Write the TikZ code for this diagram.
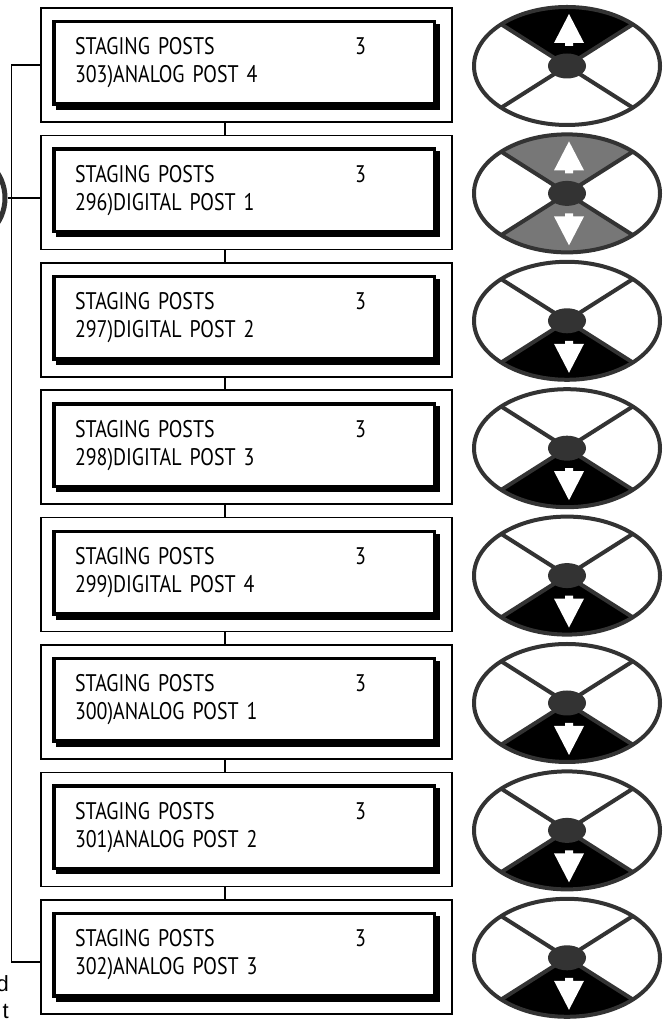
\documentclass[tikz,border=0pt]{standalone}
\usepackage{fontspec}
\setmainfont{PT Sans}[FakeStretch=0.83]
\newfontfamily\notefont{Liberation Sans}
\usetikzlibrary{calc, positioning}
\definecolor{keyrim}{HTML}{333333}
\definecolor{keyhalf}{HTML}{777777}

\begin{document}
\begin{tikzpicture}[x=1pt, y=1pt,
  frame/.style={rectangle, draw, line width=1.5pt, minimum width=411pt,
    minimum height=114pt, inner sep=0pt},
  lcd/.style={rectangle, draw, line width=3.5pt, fill=white, minimum width=380.5pt,
    minimum height=82.5pt, inner xsep=21.25pt, inner ysep=0pt, text width=338pt,
    align=left, font=\fontsize{24}{28}\selectfont},
  shade/.style={fill=black},
  rim/.style={draw=keyrim, line width=4pt},
  link/.style={draw, line width=1.5pt},
  note/.style={font=\notefont\fontsize{22}{27}\selectfont, align=right, inner sep=0pt}
]
\useasboundingbox (0,0) rectangle (662,1022);

\foreach \i/\post/\up/\dn in {1/303)ANALOG POST 4/black/white,
    2/296)DIGITAL POST 1/keyhalf/keyhalf, 3/297)DIGITAL POST 2/white/black,
    4/298)DIGITAL POST 3/white/black, 5/299)DIGITAL POST 4/white/black,
    6/300)ANALOG POST 1/white/black, 7/301)ANALOG POST 2/white/black,
    8/302)ANALOG POST 3/white/black}{
  \pgfmathsetmacro\yc{957-127.4*(\i-1)}
  % screen
  \node[frame] (frame\i) at (246.5,\yc) {};
  \fill[shade] (56,\yc+41) rectangle (440,\yc-45);
  \node[lcd] (lcd\i) at (244,\yc+2) {\makebox[280pt][l]{STAGING POSTS}3\\\post};
  % keypad
  \coordinate (key\i) at (567,\yc-1);
  \fill[\up] (key\i) -- ++(65.8,41.7)
    arc[start angle=45, end angle=135, x radius=93, y radius=59] -- cycle;
  \fill[\dn] (key\i) -- ++(-65.8,-41.7)
    arc[start angle=225, end angle=315, x radius=93, y radius=59] -- cycle;
  \fill[white] ($(key\i)+(2,52)$) -- ++(-15,-29) -- ++(11,0) -- ++(0,-3)
    -- ++(8,0) -- ++(0,3) -- ++(11,0) -- cycle;
  \fill[white] ($(key\i)+(2,-52)$) -- ++(-15,29) -- ++(11,0) -- ++(0,3)
    -- ++(8,0) -- ++(0,-3) -- ++(11,0) -- cycle;
  \draw[rim] ($(key\i)+(-65.8,41.7)$) -- ($(key\i)+(65.8,-41.7)$);
  \draw[rim] ($(key\i)+(65.8,41.7)$) -- ($(key\i)+(-65.8,-41.7)$);
  \draw[rim] (key\i) ellipse[x radius=93, y radius=59];
  \fill[keyrim] (key\i) ellipse[x radius=19, y radius=12.5];
}

\foreach \i [evaluate=\i as \j using int(\i+1)] in {1,...,6,7}
  \draw[link] ([xshift=-21.5pt]frame\i.south) -- ([xshift=-21.5pt]frame\j.north);

\draw[link] (frame1.west) -- ++(-29,0) |- ([yshift=-5pt]frame8.west);

\node[circle, draw=keyrim, line width=5pt, minimum size=92pt] (scroll) at (-41,824) {};
\draw[link] (scroll.east) -- (scroll.east -| frame2.west);

\node[note, anchor=north east] (tail) at (9,47) {d\\t};
\end{tikzpicture}
\end{document}
